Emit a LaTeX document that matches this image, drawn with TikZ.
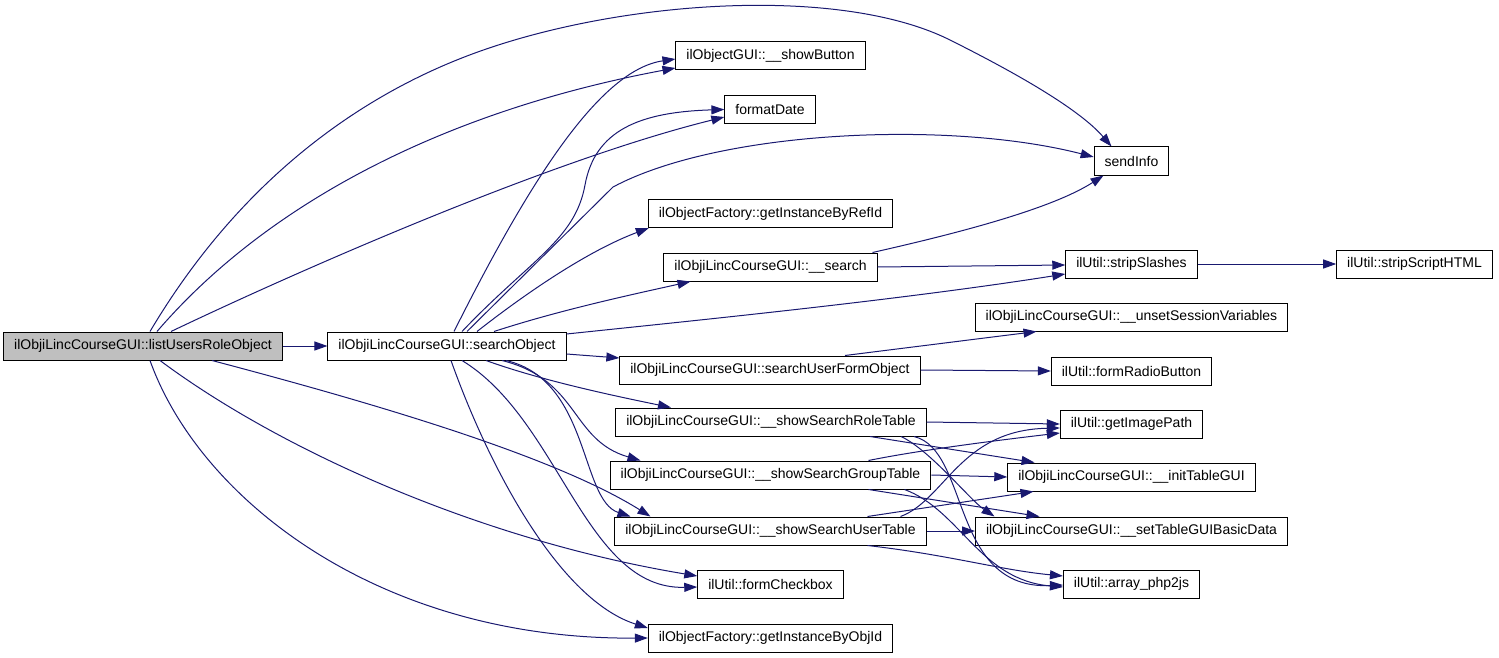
\documentclass[tikz,border=0pt]{standalone}
\usepackage{fontspec}
\setmainfont{Liberation Sans}
\usetikzlibrary{arrows.meta}
\definecolor{edgeblue}{RGB}{25,25,112}
\definecolor{rootgray}{RGB}{191,191,191}

\begin{document}
\begin{tikzpicture}[x=1pt,y=-1pt,
	fn/.style={draw=black,line width=1pt,fill=white,minimum height=28pt,inner xsep=10.5pt,inner ysep=0pt,font=\fontsize{14}{16}\selectfont},
	root/.style={fn,fill=rootgray},
	call/.style={draw=edgeblue,line width=1pt,-{Triangle[length=13pt,width=9pt]}}]
	\useasboundingbox (0,0) rectangle (1499,658);

	\node[root] (L) at (143,346) {ilObjiLincCourseGUI::listUsersRoleObject};
	\node[fn] (S) at (447,346) {ilObjiLincCourseGUI::searchObject};

	\node[fn] (showButton) at (770.5,56) {ilObjectGUI::\_\_showButton};
	\node[fn] (formatDate) at (770,109.5) {formatDate};
	\node[fn] (refId) at (770.5,213.5) {ilObjectFactory::getInstanceByRefId};
	\node[fn] (search) at (770.5,267) {ilObjiLincCourseGUI::\_\_search};
	\node[fn] (sufo) at (770,370) {ilObjiLincCourseGUI::searchUserFormObject};
	\node[fn] (roleTab) at (771,422) {ilObjiLincCourseGUI::\_\_showSearchRoleTable};
	\node[fn] (groupTab) at (770.5,475) {ilObjiLincCourseGUI::\_\_showSearchGroupTable};
	\node[fn] (userTab) at (770.5,531) {ilObjiLincCourseGUI::\_\_showSearchUserTable};
	\node[fn] (checkbox) at (770.5,584) {ilUtil::formCheckbox};
	\node[fn] (objId) at (770.5,638) {ilObjectFactory::getInstanceByObjId};

	\node[fn] (sendInfo) at (1131.5,161) {sendInfo};
	\node[fn] (strip) at (1131.5,264) {ilUtil::stripSlashes};
	\node[fn] (unset) at (1131.5,317) {ilObjiLincCourseGUI::\_\_unsetSessionVariables};
	\node[fn] (radio) at (1131.5,371) {ilUtil::formRadioButton};
	\node[fn] (imgPath) at (1131.5,424) {ilUtil::getImagePath};
	\node[fn] (initTab) at (1131.5,477) {ilObjiLincCourseGUI::\_\_initTableGUI};
	\node[fn] (setTab) at (1131.5,531) {ilObjiLincCourseGUI::\_\_setTableGUIBasicData};
	\node[fn] (php2js) at (1131.5,584) {ilUtil::array\_php2js};

	\node[fn] (stripHTML) at (1414.5,264) {ilUtil::stripScriptHTML};

	\draw[call] (L.east) -- (S.west);
	\draw[call] ([xshift=7pt]L.north) .. controls (240,180) and (360,95) .. (475,53)
		.. controls (620,0) and (840,-15) .. (950,40)
		.. controls (1020,75) and (1080,110) .. ([xshift=-20pt]sendInfo.north);
	\draw[call] ([xshift=14pt]L.north) .. controls (270,200) and (450,110) .. ([yshift=-12pt]showButton.west);
	\draw[call] ([xshift=28pt]L.north) .. controls (300,270) and (550,160) .. ([yshift=-7.5pt]formatDate.west);
	\draw[call] ([xshift=69pt]L.south) .. controls (400,410) and (560,460) .. ([xshift=-120pt]userTab.north);
	\draw[call] ([xshift=17pt]L.south) .. controls (280,450) and (480,540) .. ([yshift=8pt]checkbox.west);
	\draw[call] ([xshift=7pt]L.south) .. controls (200,500) and (380,640) .. (objId.west);

	\draw[call] ([xshift=7pt]S.north) .. controls (530,180) and (600,70) .. ([yshift=-3pt]showButton.west);
	\draw[call] ([xshift=15pt]S.north) .. controls (530,260) and (575,240) .. (585,185)
		.. controls (595,130) and (640,112) .. (formatDate.west);
	\draw[call] ([xshift=20pt]S.north) -- (613,187) .. controls (720,130) and (950,120) .. ([yshift=4pt]sendInfo.west);
	\draw[call] ([xshift=30pt]S.north) .. controls (530,290) and (590,250) .. ([xshift=1pt]refId.south west);
	\draw[call] ([xshift=47pt]S.north) .. controls (560,310) and (630,295) .. ([xshift=-80pt]search.south);
	\draw[call] ([yshift=12pt]S.east) .. controls (700,320) and (900,300) .. ([yshift=-10pt]strip.west);
	\draw[call] ([yshift=-8pt]S.east) -- ([yshift=12pt]sufo.west);
	\draw[call] ([xshift=39pt]S.south) .. controls (540,380) and (610,395) .. ([xshift=-100pt]roleTab.north);
	\draw[call] ([xshift=55pt]S.south) .. controls (580,380) and (570,440) .. ([xshift=-130pt]groupTab.north);
	\draw[call] ([xshift=59pt]S.south) .. controls (590,380) and (580,500) .. ([xshift=-140pt]userTab.north);
	\draw[call] ([xshift=15pt]S.south) .. controls (560,420) and (585,590) .. ([yshift=-3pt]checkbox.west);
	\draw[call] ([xshift=4pt]S.south) .. controls (490,470) and (560,600) .. ([yshift=10pt]objId.west);

	\draw[call] ([xshift=102pt]search.north) .. controls (950,235) and (1050,210) .. ([xshift=-28pt]sendInfo.south);
	\draw[call] (search.east) -- ([yshift=-1pt]strip.west);
	\draw[call] (strip) -- (stripHTML);
	\draw[call] ([xshift=75pt]sufo.north) -- ([xshift=-95pt]unset.south);
	\draw[call] (sufo.east) -- (radio.west);

	\draw[call] (roleTab.east) -- (imgPath.west);
	\draw[call] ([xshift=99pt]roleTab.south) -- ([xshift=-97pt]initTab.north);
	\draw[call] ([xshift=130pt]roleTab.south) .. controls (930,450) and (970,500) .. ([xshift=-137pt]setTab.north);
	\draw[call] ([xshift=143pt]roleTab.south) .. controls (970,450) and (950,590) .. ([yshift=-1pt]php2js.west);

	\draw[call] ([xshift=98pt]groupTab.north) .. controls (920,450) and (1000,440) .. ([yshift=-9pt]imgPath.west);
	\draw[call] (groupTab.east) -- (initTab.west);
	\draw[call] ([xshift=98pt]groupTab.south) -- ([xshift=-92pt]setTab.north);
	\draw[call] ([xshift=134pt]groupTab.south) .. controls (960,510) and (980,580) .. ([yshift=-3pt]php2js.west);

	\draw[call] ([xshift=130pt]userTab.north) .. controls (945,500) and (960,430) .. ([yshift=-4pt]imgPath.west);
	\draw[call] ([xshift=97pt]userTab.north) -- ([xshift=-98pt]initTab.south);
	\draw[call] (userTab.east) -- (setTab.west);
	\draw[call] ([xshift=97pt]userTab.south) .. controls (950,555) and (1000,570) .. ([yshift=8pt]php2js.west);
\end{tikzpicture}
\end{document}
